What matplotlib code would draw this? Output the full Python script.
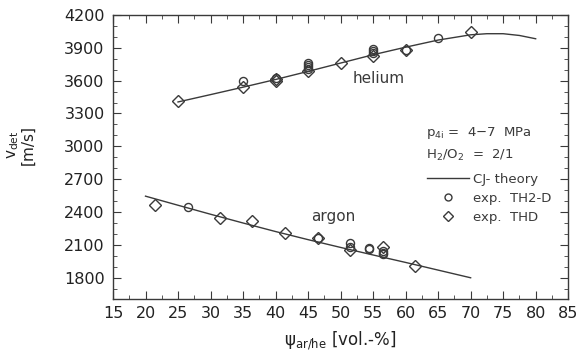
import numpy as np
import matplotlib
matplotlib.use("Agg")
import matplotlib.pyplot as plt
from matplotlib.ticker import MultipleLocator
from matplotlib.lines import Line2D

plt.rcParams['font.family'] = ['DejaVu Sans']
plt.rcParams['mathtext.fontset'] = 'dejavusans'

# CJ theory curves
he_theory_x = [25, 30, 35, 40, 45, 50, 55, 60, 65, 70, 72.5, 75, 77.5, 80]
he_theory_y = [3405, 3472, 3540, 3610, 3684, 3760, 3836, 3905, 3970, 4018, 4028, 4028, 4012, 3982]
ar_theory_x = [20, 25, 30, 35, 40, 45, 50, 55, 60, 65, 70]
ar_theory_y = [2545, 2462, 2380, 2300, 2222, 2148, 2077, 2008, 1940, 1870, 1800]

# exp. TH2-D (circles)
th2d_x = [35, 40, 45, 45, 45, 45, 55, 55, 55, 60, 65,
          26.5, 46.5, 51.4, 51.4, 54.4, 54.4, 56.5, 56.5, 56.5]
th2d_y = [3592, 3625, 3762, 3742, 3722, 3702, 3885, 3868, 3852, 3880, 3987,
          2449, 2162, 2115, 2084, 2069, 2062, 2045, 2030, 2018]

# exp. THD (diamonds)
thd_x = [25, 35, 40, 40, 45, 50, 55, 60, 70,
         21.5, 31.4, 36.4, 41.5, 46.5, 51.4, 56.5, 61.4]
thd_y = [3412, 3545, 3618, 3598, 3685, 3759, 3822, 3878, 4042,
         2468, 2343, 2317, 2212, 2165, 2058, 2080, 1912]

col = '#3a3a3a'

fig = plt.figure(figsize=(5.78, 3.54), dpi=100)
ax = fig.add_axes([0.1955, 0.155, 0.7875, 0.803])

ax.plot(he_theory_x, he_theory_y, '-', color=col, lw=1.0)
ax.plot(ar_theory_x, ar_theory_y, '-', color=col, lw=1.0)
ax.plot(th2d_x, th2d_y, 'o', ms=5.8, mfc='none', mec=col, mew=1.0)
ax.plot(thd_x, thd_y, 'D', ms=6.0, mfc='none', mec=col, mew=1.0)

ax.text(55.9, 3622, 'helium', fontsize=11, color=col, ha='center', va='center')
ax.text(48.8, 2355, 'argon', fontsize=11, color=col, ha='center', va='center')

ax.set_xlim(15, 85)
ax.set_ylim(1605, 4200)
ax.xaxis.set_major_locator(MultipleLocator(5))
ax.xaxis.set_minor_locator(MultipleLocator(2.5))
ax.yaxis.set_major_locator(MultipleLocator(300))
ax.yaxis.set_minor_locator(MultipleLocator(100))
ax.set_yticks([1800, 2100, 2400, 2700, 3000, 3300, 3600, 3900, 4200])
ax.tick_params(which='both', direction='in', top=True, right=True,
               color=col, labelcolor='#222222', labelsize=11.5)
ax.tick_params(which='major', length=6)
ax.tick_params(which='minor', length=3)
ax.tick_params(axis='y', pad=6)
ax.tick_params(axis='x', pad=5)
for s in ax.spines.values():
    s.set_color(col)
    s.set_linewidth(1.0)

ax.set_xlabel('ψ$_{\\mathrm{ar/he}}$ [vol.-%]', fontsize=12, color='#222222', labelpad=6)
fig.text(0.035, 0.59, 'v$_{\\mathrm{det}}$\n[m/s]', rotation=90, fontsize=11,
         color='#222222', ha='center', va='center', linespacing=1.0)

ax.text(0.688, 0.585, r'p$_{4\mathrm{i}}$ =  4$-$7  MPa', transform=ax.transAxes,
        fontsize=9.5, color=col, va='center')
ax.text(0.688, 0.507, r'H$_2$/O$_2$  =  2/1', transform=ax.transAxes,
        fontsize=9.5, color=col, va='center')

handles = [Line2D([], [], color=col, lw=1.0),
           Line2D([], [], ls='none', marker='o', ms=5.0, mfc='none', mec=col),
           Line2D([], [], ls='none', marker='D', ms=5.5, mfc='none', mec=col)]
ax.legend(handles, ['CJ- theory', 'exp.  TH2-D', 'exp.  THD'],
          loc='upper left', bbox_to_anchor=(0.67, 0.477), frameon=False,
          fontsize=9.5, handlelength=3.2, handletextpad=0.3, labelspacing=0.45,
          borderpad=0.2, labelcolor=col)

fig.savefig('out.png', dpi=100)
